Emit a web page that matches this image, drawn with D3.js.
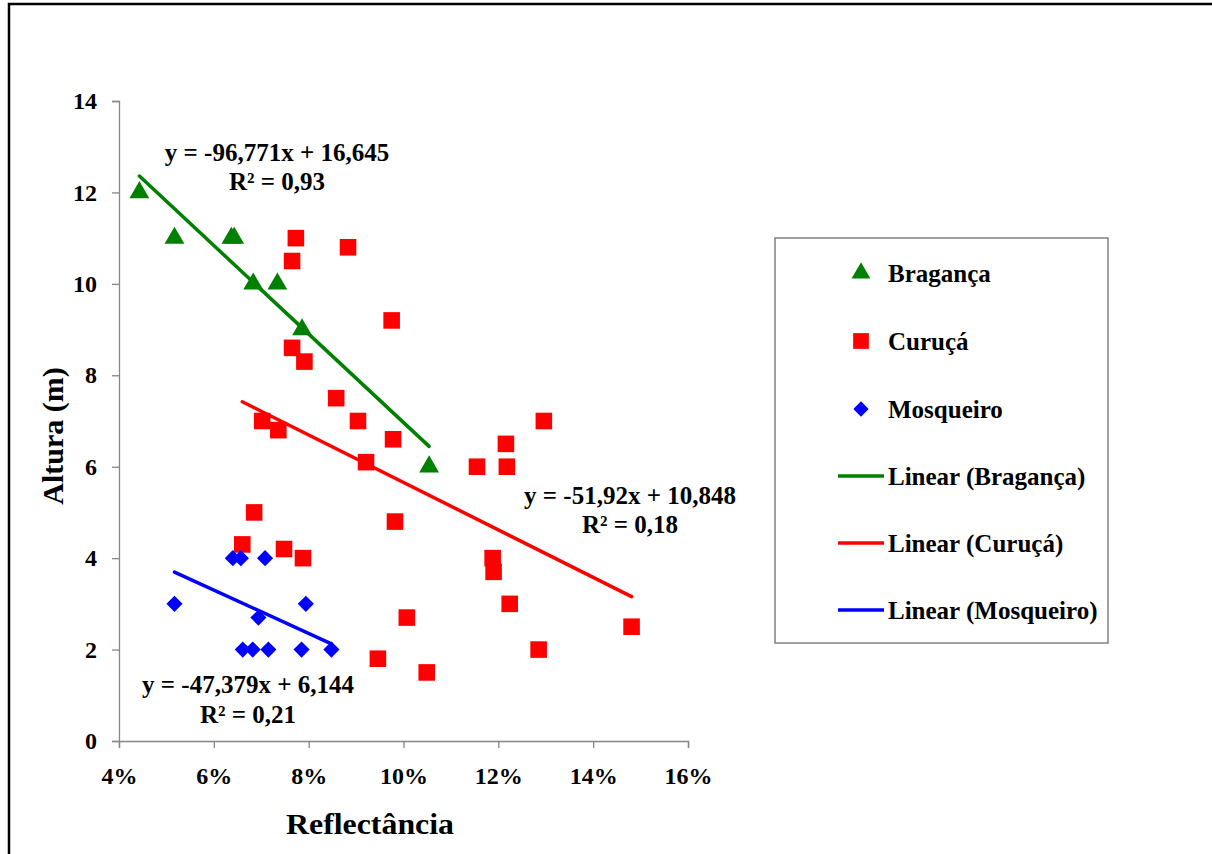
<!DOCTYPE html>
<html>
<head>
<meta charset="utf-8">
<script src="https://cdn.jsdelivr.net/npm/d3@7"></script>
<style>
  html, body { margin: 0; padding: 0; background: #fff; }
  svg { display: block; }
  text { font-family: "Liberation Serif", "Times New Roman", serif; font-weight: bold; fill: #000; }
</style>
</head>
<body>
<script>
// ---- data (x = reflectance as fraction, y = height in m) ----
const seriesNames = ["Bragança", "Curuçá", "Mosqueiro"];
const seriesColors = ["#008000", "#ff0000", "#0000ff"];

const bragancaX = [0.0443, 0.0517, 0.0637, 0.0643, 0.0683, 0.0734, 0.0786, 0.1054];
const bragancaY = [12, 11, 11, 11, 10, 10, 9, 6];

const curucaX = [0.0773, 0.0765, 0.0883, 0.0975, 0.0765, 0.0791, 0.0858, 0.0702, 0.0736, 0.0904,
                 0.0978, 0.0921, 0.1155, 0.1216, 0.1218, 0.1296, 0.0982, 0.0685, 0.0660, 0.0748,
                 0.0788, 0.1188, 0.1190, 0.1224, 0.1007, 0.0946, 0.1049, 0.1285, 0.1481];
const curucaY = [11.0, 10.5, 10.8, 9.2, 8.6, 8.3, 7.5, 7.0, 6.8, 7.0,
                 6.6, 6.1, 6.0, 6.5, 6.0, 7.0, 4.8, 5.0, 4.3, 4.2,
                 4.0, 4.0, 3.7, 3.0, 2.7, 1.8, 1.5, 2.0, 2.5];

const mosqueiroX = [0.0517, 0.0640, 0.0657, 0.0708, 0.0794, 0.0694, 0.0661, 0.0682, 0.0715, 0.0785, 0.0848];
const mosqueiroY = [3, 4, 4, 4, 3, 2.7, 2, 2, 2, 2, 2];

// trendline equations shown on the chart: y = slope*x + intercept
const trendSlopes = [-96.771, -51.92, -47.379];
const trendIntercepts = [16.645, 10.848, 6.144];
const trendR2 = ["0,93", "0,18", "0,21"];
const trendEqText = ["y = -96,771x + 16,645", "y = -51,92x + 10,848", "y = -47,379x + 6,144"];

const xTicks = [0.04, 0.06, 0.08, 0.10, 0.12, 0.14, 0.16];
const yTicks = [0, 2, 4, 6, 8, 10, 12, 14];
const legendLabels = ["Bragança", "Curuçá", "Mosqueiro", "Linear (Bragança)", "Linear (Curuçá)", "Linear (Mosqueiro)"];

// ---- drawing ----
const W = 1212, H = 854;
const svg = d3.select("body").append("svg").attr("width", W).attr("height", H);
const FONT = "'Liberation Serif', 'Times New Roman', serif";

// outer frame (only top and left visible)
svg.append("rect").attr("x", 9).attr("y", 4).attr("width", 1300).attr("height", 1000)
  .attr("fill", "none").attr("stroke", "#000").attr("stroke-width", 2.5);

const x = d3.scaleLinear().domain([0.04, 0.16]).range([119, 688]);
const y = d3.scaleLinear().domain([0, 14]).range([741, 101]);

const axisColor = "#868686";

// y axis
const yAxis = svg.append("g").attr("transform", `translate(${x(0.04)},0)`)
  .call(d3.axisLeft(y).tickValues(yTicks).tickSize(7).tickPadding(15).tickFormat(d3.format("d")));
yAxis.attr("font-family", FONT).attr("font-size", 24);
yAxis.select(".domain").attr("stroke", axisColor).attr("stroke-width", 1.3);
yAxis.selectAll(".tick line").attr("stroke", axisColor).attr("stroke-width", 1.3);
yAxis.selectAll(".tick text").attr("font-weight", "bold").attr("fill", "#000");

// x axis
const xAxis = svg.append("g").attr("transform", `translate(0,${y(0)})`)
  .call(d3.axisBottom(x).tickValues(xTicks).tickSize(7).tickPadding(19).tickFormat(d3.format(".0%")));
xAxis.attr("font-family", FONT).attr("font-size", 24);
xAxis.select(".domain").attr("stroke", axisColor).attr("stroke-width", 1.3);
xAxis.selectAll(".tick line").attr("stroke", axisColor).attr("stroke-width", 1.3);
xAxis.selectAll(".tick text").attr("font-weight", "bold").attr("fill", "#000");

// axis titles
svg.append("text").attr("x", 370).attr("y", 834).attr("text-anchor", "middle")
  .attr("font-size", 30).attr("textLength", 168).attr("lengthAdjust", "spacingAndGlyphs").text("Reflectância");
svg.append("text").attr("transform", "translate(63,436) rotate(-90)").attr("text-anchor", "middle")
  .attr("font-size", 30).text("Altura (m)");

const seriesX = [bragancaX, curucaX, mosqueiroX];
const seriesY = [bragancaY, curucaY, mosqueiroY];
const symbols = [d3.symbolTriangle, d3.symbolSquare, d3.symbolSquare];
const symSizes = [170, 275, 130];
const symRot = [0, 0, 45];

// trendlines
seriesX.forEach((xs, i) => {
  const [x0, x1] = d3.extent(xs);
  const f = v => trendSlopes[i] * v + trendIntercepts[i];
  svg.append("line")
    .attr("x1", x(x0)).attr("y1", y(f(x0)))
    .attr("x2", x(x1)).attr("y2", y(f(x1)))
    .attr("stroke", seriesColors[i]).attr("stroke-width", 3.5).attr("stroke-linecap", "round");
});

// points
[1, 2, 0].forEach(i => {
  const pts = seriesX[i].map((v, k) => [v, seriesY[i][k]]);
  svg.append("g").selectAll("path").data(pts).join("path")
    .attr("transform", d => `translate(${x(d[0])},${y(d[1])}) rotate(${symRot[i]})`)
    .attr("d", d3.symbol().type(symbols[i]).size(symSizes[i]))
    .attr("fill", seriesColors[i]);
});

// equation labels
const eqPos = [[277, 161, 190], [630, 504, 533], [248, 693, 723]];
eqPos.forEach((p, i) => {
  svg.append("text").attr("x", p[0]).attr("y", p[1]).attr("text-anchor", "middle")
    .attr("font-size", 25).text(trendEqText[i]);
  svg.append("text").attr("x", p[0]).attr("y", p[2]).attr("text-anchor", "middle")
    .attr("font-size", 25).text("R² = " + trendR2[i]);
});

// legend
const lg = svg.append("g");
lg.append("rect").attr("x", 775).attr("y", 238).attr("width", 333).attr("height", 405)
  .attr("fill", "#fff").attr("stroke", "#808080").attr("stroke-width", 1.5);
const rowY = [273, 341, 409, 476, 543, 610];
legendLabels.forEach((lab, i) => {
  const cy = rowY[i];
  if (i < 3) {
    lg.append("path").attr("transform", `translate(861,${cy}) rotate(${symRot[i]})`)
      .attr("d", d3.symbol().type(symbols[i]).size(symSizes[i] * 0.9))
      .attr("fill", seriesColors[i]);
  } else {
    lg.append("line").attr("x1", 838).attr("x2", 884).attr("y1", cy).attr("y2", cy)
      .attr("stroke", seriesColors[i - 3]).attr("stroke-width", 3.5);
  }
  lg.append("text").attr("x", 888).attr("y", cy + 9).attr("font-size", 25).text(lab);
});
</script>
</body>
</html>
